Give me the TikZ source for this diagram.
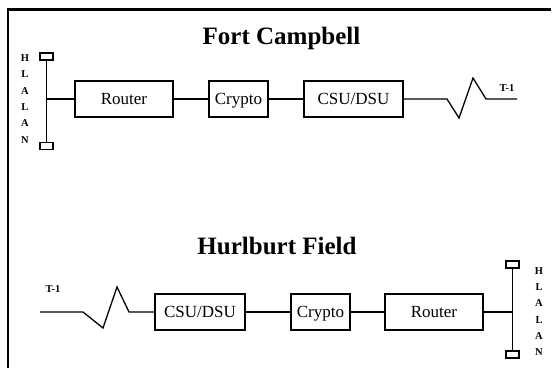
\documentclass[tikz,border=0pt]{standalone}
\usepackage{fontspec}
\setmainfont{Liberation Serif}

\tikzset{
  unit/.style={draw, line width=1.2pt, minimum height=36pt, inner sep=0pt, text height=13pt, text depth=2pt, font=\fontsize{17}{20}\selectfont},
  lanend/.style={draw, line width=1.2pt, minimum width=13pt, minimum height=7pt, inner sep=0pt},
  wire/.style={line width=1.3pt},
  sitename/.style={font=\fontsize{25}{28}\selectfont\bfseries},
  smalllabel/.style={font=\fontsize{10.5}{12}\selectfont\bfseries, inner sep=0pt},
  lanletters/.style={font=\fontsize{10.5}{16.3}\selectfont\bfseries, align=center, inner sep=0pt}
}

\begin{document}
\begin{tikzpicture}[x=1pt, y=-1pt]

\useasboundingbox (0,0) rectangle (553,368);

% frame
\draw[line width=2.5pt] (8,368) |- (551,9.5);

% Fort Campbell
\node[sitename] (fctitle) at (281.5,38) {Fort Campbell};

\node[lanend] (fctop) at (46.5,56.5) {};
\node[lanend] (fcbot) at (46.5,146) {};
\node[lanletters] (fclan) at (25,99) {H\\L\\A\\L\\A\\N};

\node[unit, minimum width=98pt] (fcrouter) at (124,99) {Router};
\node[unit, minimum width=59pt] (fccrypto) at (238.5,99) {Crypto};
\node[unit, minimum width=99pt] (fccsu) at (353.5,99) {CSU/DSU};

\coordinate (fcz1) at (447,99);
\coordinate (fcz2) at (459,118);
\coordinate (fcz3) at (473,78);
\coordinate (fcz4) at (486,99);
\coordinate (fcend) at (517,99);
\node[smalllabel] (fct1) at (507,88) {T-1};

\draw[wire] (fctop.south) -- (fcbot.north);
\draw[wire] (fcrouter.west) -- (fcrouter.west -| fctop.south);
\draw[wire] (fcrouter) -- (fccrypto);
\draw[wire] (fccrypto) -- (fccsu);
\draw[wire] (fccsu.east) -- (fcz1) -- (fcz2) -- (fcz3) -- (fcz4) -- (fcend);

% Hurlburt Field
\node[sitename] (hftitle) at (277,246) {Hurlburt Field};

\coordinate (hfstart) at (40,312);
\coordinate (hfz1) at (83,312);
\coordinate (hfz2) at (103,328);
\coordinate (hfz3) at (117,287);
\coordinate (hfz4) at (129,312);
\node[smalllabel] (hft1) at (53,289) {T-1};

\node[unit, minimum width=90pt] (hfcsu) at (200,312) {CSU/DSU};
\node[unit, minimum width=59pt] (hfcrypto) at (320.5,312) {Crypto};
\node[unit, minimum width=98pt] (hfrouter) at (434,312) {Router};

\node[lanend] (hftop) at (512.5,264.5) {};
\node[lanend] (hfbot) at (512.5,354.5) {};
\node[lanletters] (hflan) at (539,311.5) {H\\L\\A\\L\\A\\N};

\draw[wire] (hfstart) -- (hfz1) -- (hfz2) -- (hfz3) -- (hfz4) -- (hfcsu.west);
\draw[wire] (hfcsu) -- (hfcrypto);
\draw[wire] (hfcrypto) -- (hfrouter);
\draw[wire] (hfrouter.east) -- (hfrouter.east -| hftop.south);
\draw[wire] (hftop.south) -- (hfbot.north);

\end{tikzpicture}
\end{document}
